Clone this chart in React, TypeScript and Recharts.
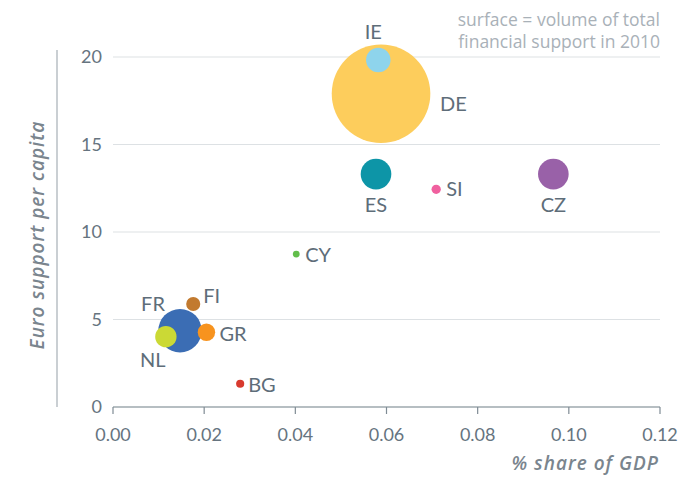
import React from 'react';
import { ScatterChart, Scatter, XAxis, YAxis, ZAxis, CartesianGrid, Cell } from 'recharts';

const countries = ['DE', 'IE', 'ES', 'SI', 'CZ', 'CY', 'FR', 'NL', 'GR', 'FI', 'BG'];
const gdpShare = [0.0588, 0.0582, 0.0577, 0.0709, 0.0966, 0.0402, 0.0147, 0.0116, 0.0205, 0.0176, 0.0279];
const perCapita = [17.9, 19.83, 13.31, 12.44, 13.31, 8.74, 4.36, 4.02, 4.27, 5.89, 1.33];
const volume = [1470, 91, 142, 13, 142, 7, 285, 69, 46, 30, 10];
const colors = ['#FDCD5C', '#8ED4EC', '#0D95A7', '#F0609F', '#9961A8', '#62BE4B', '#3B6DB4', '#CBD935', '#F7931E', '#C27A2F', '#D83A2E'];
const xTicks = [0, 0.02, 0.04, 0.06, 0.08, 0.1, 0.12];
const yTicks = [0, 5, 10, 15, 20];

const data = countries.map((c, i) => ({ name: c, x: gdpShare[i], y: perCapita[i], z: volume[i] }));

const labelPlacement: Record<string, { dx: number; dy: number; anchor: 'start' | 'middle' | 'end' }> = {
  DE: { dx: 59, dy: 9, anchor: 'start' },
  IE: { dx: -5, dy: -29, anchor: 'middle' },
  ES: { dx: 0, dy: 30, anchor: 'middle' },
  SI: { dx: 10, dy: -1, anchor: 'start' },
  CZ: { dx: 0, dy: 30, anchor: 'middle' },
  CY: { dx: 9, dy: 0, anchor: 'start' },
  FR: { dx: -27, dy: -28, anchor: 'middle' },
  NL: { dx: -13, dy: 22, anchor: 'middle' },
  GR: { dx: 13, dy: 1, anchor: 'start' },
  FI: { dx: 10, dy: -9, anchor: 'start' },
  BG: { dx: 8, dy: 0, anchor: 'start' },
};

const FONT = 'Lato, "Open Sans", sans-serif';
const TITLE_FONT = '"Open Sans", Lato, sans-serif';
const TEXT = '#5E6D79';

const LabelShape = (props: any) => {
  const { cx, cy, payload } = props;
  const p = labelPlacement[payload.name];
  return (
    <text
      x={cx + p.dx}
      y={cy + p.dy}
      textAnchor={p.anchor}
      dominantBaseline="central"
      fontFamily={FONT}
      fontSize={20}
      fill={TEXT}
    >
      {payload.name}
    </text>
  );
};

export default function App() {
  return (
    <div style={{ position: 'absolute', left: 0, top: 0, width: 681, height: 477, background: '#fff' }}>
      <ScatterChart width={681} height={477} margin={{ top: 57, right: 21, bottom: 0, left: 0 }}>
        <CartesianGrid vertical={false} stroke="#DDE1E4" strokeWidth={1.2} />
        <XAxis
          type="number"
          dataKey="x"
          domain={[0, 0.12]}
          ticks={xTicks}
          tickFormatter={(v: number) => v.toFixed(2)}
          height={70}
          axisLine={{ stroke: '#7F8B94', strokeWidth: 1.2 }}
          tickLine={{ stroke: '#7F8B94', strokeWidth: 1.2 }}
          tickSize={7}
          tickMargin={14}
          tick={{ fill: '#66747F', fontSize: 18, fontFamily: FONT }}
        />
        <YAxis
          type="number"
          dataKey="y"
          domain={[0, 20]}
          ticks={yTicks}
          width={113}
          axisLine={false}
          tickLine={false}
          tickSize={6}
          tickMargin={5}
          tick={{ fill: '#66747F', fontSize: 18, fontFamily: FONT }}
        />
        <ZAxis type="number" dataKey="z" domain={[0, 1470]} range={[0, 7636]} />
        <Scatter data={data} isAnimationActive={false}>
          {data.map((d, i) => (
            <Cell key={d.name} fill={colors[i]} />
          ))}
        </Scatter>
        <Scatter data={data} isAnimationActive={false} shape={LabelShape} />
      </ScatterChart>
      <svg
        width={681}
        height={477}
        style={{ position: 'absolute', left: 0, top: 0, pointerEvents: 'none' }}
      >
        <line x1={57} y1={50} x2={57} y2={407} stroke="#B8BFC5" strokeWidth={1.5} />
        <text
          x={37}
          y={235}
          transform="rotate(-90 37 235)"
          textAnchor="middle"
          dominantBaseline="central"
          fontFamily={TITLE_FONT}
          fontStyle="italic"
          fontWeight={600}
          fontSize={19}
          letterSpacing={1}
          fill="#7A858E"
        >
          Euro support per capita
        </text>
        <text
          x={659}
          y={470}
          textAnchor="end"
          fontFamily={TITLE_FONT}
          fontStyle="italic"
          fontWeight={600}
          fontSize={19}
          letterSpacing={1}
          fill="#7A858E"
        >
          % share of GDP
        </text>
        <text x={660} y={26} textAnchor="end" fontFamily={TITLE_FONT} fontSize={17.5} fill="#A9B1B8">
          surface = volume of total
        </text>
        <text x={660} y={48} textAnchor="end" fontFamily={TITLE_FONT} fontSize={17.5} fill="#A9B1B8">
          financial support in 2010
        </text>
      </svg>
    </div>
  );
}
